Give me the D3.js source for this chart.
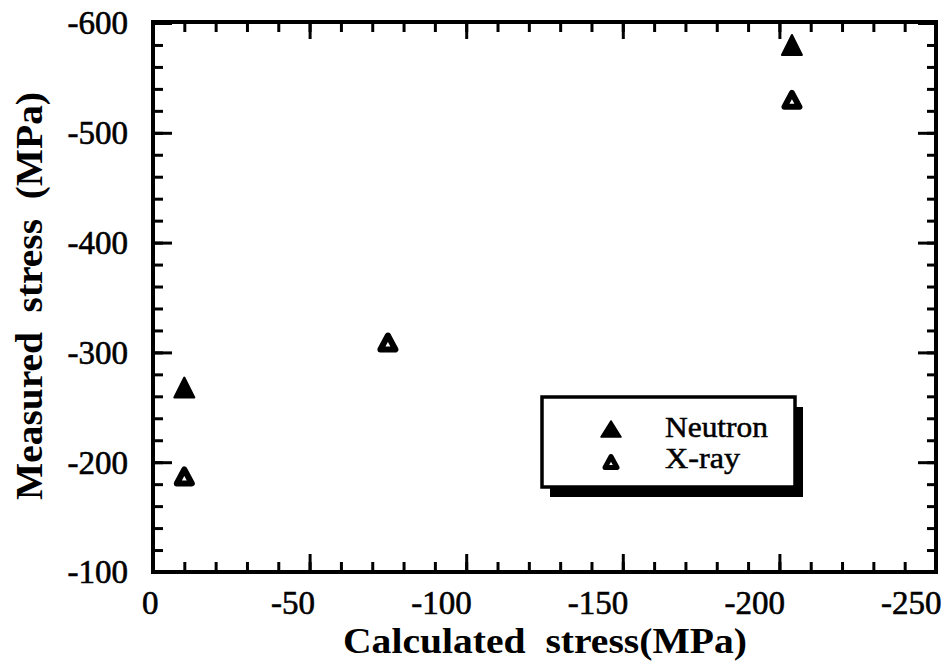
<!DOCTYPE html>
<html>
<head>
<meta charset="utf-8">
<script src="https://cdn.jsdelivr.net/npm/d3@7"></script>
<style>
  html, body { margin: 0; padding: 0; background: #fff; }
  svg { display: block; }
</style>
</head>
<body>
<svg id="chart" width="943" height="672"></svg>
<script>
// ---- data ----
const xMajorTicks = [0, -50, -100, -150, -200, -250];
const yMajorTicks = [-100, -200, -300, -400, -500, -600];
const xTickLabels = ["0", "-50", "-100", "-150", "-200", "-250"];
const yTickLabels = ["-100", "-200", "-300", "-400", "-500", "-600"];

const neutronX = [-10, -204];
const neutronY = [-268, -580];
const xrayX = [-10, -75, -204];
const xrayY = [-187, -309, -530];

const seriesNames = ["Neutron", "X-ray"];
const xTitle = "Calculated  stress(MPa)";
const yTitle = "Measured  stress  (MPa)";

// ---- layout ----
const FONT = "'Liberation Serif', 'Times New Roman', Times, serif";
const svg = d3.select("#chart");
const L = 153, R = 936, T = 22, B = 572;
const x = d3.scaleLinear().domain([0, -250]).range([L, R]);
const y = d3.scaleLinear().domain([-100, -600]).range([B, 23]);

const xMinor = d3.range(0, -251, -10);
const yMinor = d3.range(-100, -601, -20);

function styleAxis(g, sw) {
  g.select(".domain").remove();
  g.attr("font-family", null);
  g.selectAll(".tick line").attr("stroke", "#000").attr("stroke-width", sw);
}

// minor ticks
svg.append("g").attr("transform", `translate(0,${B})`)
  .call(d3.axisBottom(x).tickValues(xMinor).tickSize(-10).tickFormat(""))
  .call(g => styleAxis(g, 3));
svg.append("g").attr("transform", `translate(0,${T})`)
  .call(d3.axisTop(x).tickValues(xMinor).tickSize(-10).tickFormat(""))
  .call(g => styleAxis(g, 3));
svg.append("g").attr("transform", `translate(${L},0)`)
  .call(d3.axisLeft(y).tickValues(yMinor).tickSize(-10).tickFormat(""))
  .call(g => styleAxis(g, 3));
svg.append("g").attr("transform", `translate(${R},0)`)
  .call(d3.axisRight(y).tickValues(yMinor).tickSize(-9).tickFormat(""))
  .call(g => styleAxis(g, 3));

// major ticks + labels
const gx = svg.append("g").attr("transform", `translate(0,${B})`)
  .call(d3.axisBottom(x).tickValues(xMajorTicks).tickSize(-18)
        .tickFormat((d, i) => xTickLabels[i]))
  .call(g => styleAxis(g, 3));
gx.selectAll(".tick text")
  .style("font-family", FONT).style("font-size", "33px").attr("fill", "#000")
  .attr("stroke", "#000").attr("stroke-width", 0.6)
  .attr("text-anchor", "end").attr("x", 5).attr("y", 42).attr("dy", null);

svg.append("g").attr("transform", `translate(0,${T})`)
  .call(d3.axisTop(x).tickValues(xMajorTicks).tickSize(-17).tickFormat(""))
  .call(g => styleAxis(g, 3));

const gy = svg.append("g").attr("transform", `translate(${L},0)`)
  .call(d3.axisLeft(y).tickValues(yMajorTicks).tickSize(-19)
        .tickFormat((d, i) => yTickLabels[i]))
  .call(g => styleAxis(g, 3));
gy.selectAll(".tick text")
  .style("font-family", FONT).style("font-size", "33px").attr("fill", "#000")
  .attr("stroke", "#000").attr("stroke-width", 0.6)
  .attr("text-anchor", "end").attr("x", -25).attr("dy", "0.33em");

svg.append("g").attr("transform", `translate(${R},0)`)
  .call(d3.axisRight(y).tickValues(yMajorTicks).tickSize(-18).tickFormat(""))
  .call(g => styleAxis(g, 3));

// frame
svg.append("rect").attr("x", L).attr("y", T).attr("width", R - L).attr("height", B - T)
  .attr("fill", "none").attr("stroke", "#000").attr("stroke-width", 4);

// triangle path
function tri(w, h) {
  return `M0,${-h / 2}L${w / 2},${h / 2}L${-w / 2},${h / 2}Z`;
}

// data points
const neutron = neutronX.map((v, i) => ({ x: v, y: neutronY[i] }));
const xray = xrayX.map((v, i) => ({ x: v, y: xrayY[i] }));

svg.append("g").selectAll("path").data(neutron).join("path")
  .attr("transform", d => `translate(${x(d.x)},${y(d.y)})`)
  .attr("d", tri(20, 20)).attr("fill", "#000")
  .attr("stroke", "#000").attr("stroke-width", 2).attr("stroke-linejoin", "round");

svg.append("g").selectAll("path").data(xray).join("path")
  .attr("transform", d => `translate(${x(d.x)},${y(d.y)})`)
  .attr("d", tri(15, 14)).attr("fill", "#fff")
  .attr("stroke", "#000").attr("stroke-width", 6).attr("stroke-linejoin", "round");

// legend
const lg = svg.append("g");
lg.append("rect").attr("x", 550).attr("y", 407).attr("width", 253).attr("height", 90).attr("fill", "#000");
lg.append("rect").attr("x", 542).attr("y", 397).attr("width", 253).attr("height", 90)
  .attr("fill", "#fff").attr("stroke", "#000").attr("stroke-width", 3.5);
lg.append("path").attr("transform", "translate(611,429)").attr("d", tri(20, 16))
  .attr("fill", "#000").attr("stroke", "#000").attr("stroke-width", 1.5).attr("stroke-linejoin", "round");
lg.append("path").attr("transform", "translate(611,462)").attr("d", tri(12, 11))
  .attr("fill", "#fff").attr("stroke", "#000").attr("stroke-width", 5).attr("stroke-linejoin", "round");
lg.append("text").attr("x", 665).attr("y", 437)
  .style("font-family", FONT).style("font-size", "29px")
  .attr("stroke", "#000").attr("stroke-width", 0.5)
  .attr("textLength", 103).attr("lengthAdjust", "spacingAndGlyphs").text(seriesNames[0]);
lg.append("text").attr("x", 665).attr("y", 468)
  .style("font-family", FONT).style("font-size", "29px")
  .attr("stroke", "#000").attr("stroke-width", 0.5)
  .attr("textLength", 75).attr("lengthAdjust", "spacingAndGlyphs").text(seriesNames[1]);

// axis titles
svg.append("text").attr("x", 343).attr("y", 653)
  .style("font-family", FONT).style("font-size", "36px").style("font-weight", "bold")
  .attr("textLength", 404).attr("lengthAdjust", "spacingAndGlyphs")
  .style("white-space", "pre").text(xTitle);

svg.append("text").attr("transform", "translate(42,500) rotate(-90)")
  .style("font-family", FONT).style("font-size", "38px").style("font-weight", "bold")
  .attr("textLength", 408).attr("lengthAdjust", "spacingAndGlyphs")
  .style("white-space", "pre").text(yTitle);
</script>
</body>
</html>
